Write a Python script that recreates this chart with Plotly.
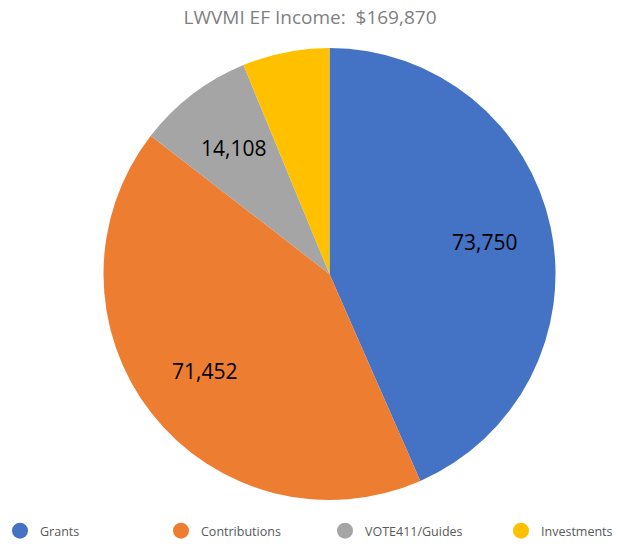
import math
import plotly.graph_objects as go

categories = ["Grants", "Contributions", "VOTE411/Guides", "Investments"]
values = [73750, 71452, 14108, 10560]
slice_labels = ["73,750", "71,452", "14,108", ""]
colors = ["#4472C4", "#ED7D31", "#A5A5A5", "#FFC000"]
title_text = "LWVMI EF Income:  $169,870"

W, H = 620, 544
CX, CY, R = 329.5, 274.0, 226.0  # pie geometry in pixels (layout)
legend_x_px = [0, 161, 325, 501]  # legend entry positions (layout)

fig = go.Figure()
fig.add_trace(go.Pie(
    labels=categories, values=values,
    textinfo="none",
    marker=dict(colors=colors, line=dict(width=0)),
    sort=False, direction="clockwise", rotation=0,
    domain=dict(x=[(CX - R) / W, (CX + R) / W], y=[1 - (CY + R) / H, 1 - (CY - R) / H]),
    showlegend=False, hoverinfo="label+value",
))
legend_names = ["legend", "legend2", "legend3", "legend4"]
for c, col, lg in zip(categories, colors, legend_names):
    fig.add_trace(go.Scatter(x=[None], y=[None], mode="markers", name=c, legend=lg,
                             marker=dict(symbol="circle", size=16, color=col)))

total = sum(values)
cum = 0
annotations = []
for v, lab in zip(values, slice_labels):
    mid = (cum + v / 2) / total * 2 * math.pi
    cum += v
    if not lab:
        continue
    px = CX + 0.7 * R * math.sin(mid)
    py = CY - 0.7 * R * math.cos(mid)
    annotations.append(dict(x=px / W, y=1 - py / H, xref="paper", yref="paper",
                            xanchor="center", yanchor="middle",
                            text=lab, showarrow=False,
                            font=dict(family="Open Sans", size=21, color="black")))

legend_common = dict(orientation="h", xanchor="left", y=1 - 531 / H, yanchor="middle",
                     bgcolor="rgba(0,0,0,0)", itemsizing="trace",
                     font=dict(family="Open Sans", size=12.5, color="#595959"))
legend_layout = {lg: dict(x=xp / W, **legend_common) for lg, xp in zip(legend_names, legend_x_px)}

fig.update_layout(
    width=W, height=H,
    margin=dict(l=0, r=0, t=0, b=0, autoexpand=False),
    paper_bgcolor="white", plot_bgcolor="white",
    title=dict(text=title_text, x=0.5, xanchor="center", y=1 - 17 / H, yanchor="middle",
               yref="container", font=dict(family="Open Sans", size=19, color="#7F7F7F")),
    xaxis=dict(visible=False), yaxis=dict(visible=False),
    annotations=annotations,
    **legend_layout,
)
fig.write_html("out.html", config={"displayModeBar": False},
               post_script="document.body.style.margin='0';document.body.style.overflow='hidden';")
